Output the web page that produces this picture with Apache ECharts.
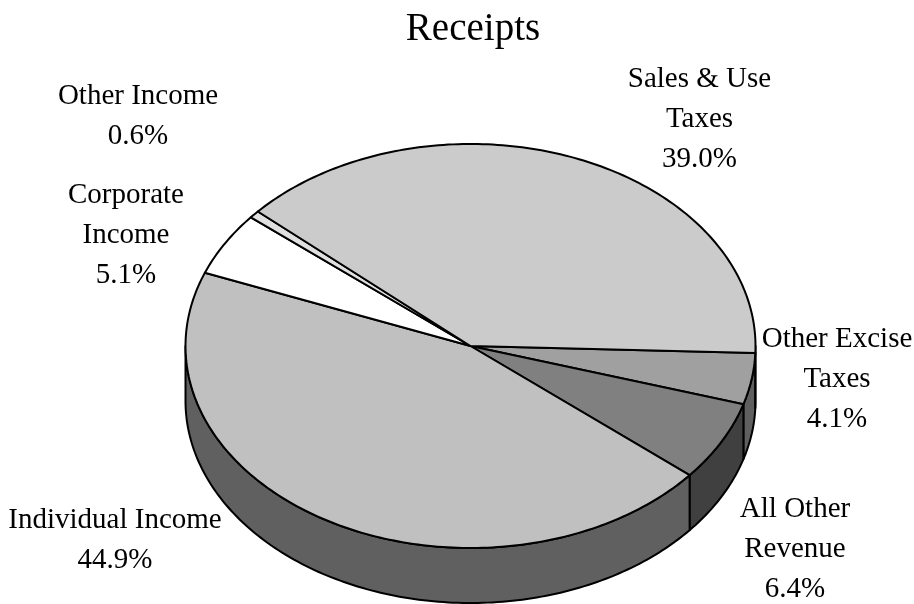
<!DOCTYPE html>
<html>
<head>
<meta charset="utf-8">
<style>html,body{margin:0;padding:0;background:#fff}#main{width:914px;height:604px}</style>
<script src="https://cdn.jsdelivr.net/npm/echarts@6/dist/echarts.min.js"></script>
</head>
<body>
<div id="main"></div>
<script>
// Receipts by source, in percent, clockwise from the right-hand edge of the pie.
const categories = ['Other Excise\nTaxes', 'All Other\nRevenue', 'Individual Income', 'Corporate\nIncome', 'Other Income', 'Sales & Use\nTaxes'];
const shares = [4.1, 6.4, 44.9, 5.1, 0.6, 39.0];
const topColors = ['#a0a0a0', '#808080', '#c0c0c0', '#ffffff', '#e0e0e0', '#cbcbcb'];
const wallColors = ['#5f5f5f', '#404040', '#606060', '#808080', '#707070', '#666666'];
const labelCentres = [[837, 379], [795, 549], [115, 540], [126, 235], [138, 116], [699.5, 119]];

const pie = { cx: 470.5, cy: 346, rx: 285, ry: 202, depth: 55, startDeg: 2 };
const total = shares.reduce((a, b) => a + b, 0);
const fontFamily = '"Liberation Serif", "Times New Roman", serif';

function rimPoint(deg, drop) {
  const t = deg * Math.PI / 180;
  return [pie.cx + pie.rx * Math.cos(t), pie.cy + drop + pie.ry * Math.sin(t)];
}

function arc(from, to, drop) {
  const steps = Math.max(2, Math.ceil(Math.abs(to - from)));
  const pts = [];
  for (let i = 0; i <= steps; i++) pts.push(rimPoint(from + (to - from) * i / steps, drop));
  return pts;
}

// Start and end angle of each slice, from the cumulative shares.
const spans = [];
shares.reduce((acc, v) => {
  const next = acc + v / total * 360;
  spans.push([acc, next]);
  return next;
}, pie.startDeg);

const edge = { stroke: '#000', lineWidth: 2, lineJoin: 'round' };

function renderSlice(params, api) {
  const i = params.dataIndex;
  const [a0, a1] = spans[i];
  const children = [];

  // The side wall shows only on the front half of the rim.
  [0, 360].forEach(function (turn) {
    const lo = Math.max(a0, turn);
    const hi = Math.min(a1, turn + 180);
    if (hi > lo) {
      children.push({
        type: 'polygon',
        shape: { points: arc(lo, hi, 0).concat(arc(hi, lo, pie.depth)) },
        style: Object.assign({ fill: wallColors[i] }, edge)
      });
    }
  });

  children.push({
    type: 'polygon',
    shape: { points: [[pie.cx, pie.cy]].concat(arc(a0, a1, 0)) },
    style: Object.assign({ fill: topColors[i] }, edge)
  });

  children.push({
    type: 'text',
    x: labelCentres[i][0],
    y: labelCentres[i][1],
    style: {
      text: categories[i] + '\n' + api.value(0).toFixed(1) + '%',
      font: '29px ' + fontFamily,
      lineHeight: 40,
      fill: '#000',
      align: 'center',
      verticalAlign: 'middle'
    }
  });

  return { type: 'group', children: children };
}

const chart = echarts.init(document.getElementById('main'), null, { renderer: 'canvas' });
chart.setOption({
  animation: false,
  backgroundColor: '#fff',
  title: {
    text: 'Receipts',
    left: 468,
    top: 5,
    textAlign: 'center',
    textStyle: { fontFamily: fontFamily, fontWeight: 'normal', fontSize: 39, color: '#000' }
  },
  series: [{
    type: 'custom',
    coordinateSystem: 'none',
    data: shares.map(v => [v]),
    renderItem: renderSlice
  }]
});
</script>
</body>
</html>
